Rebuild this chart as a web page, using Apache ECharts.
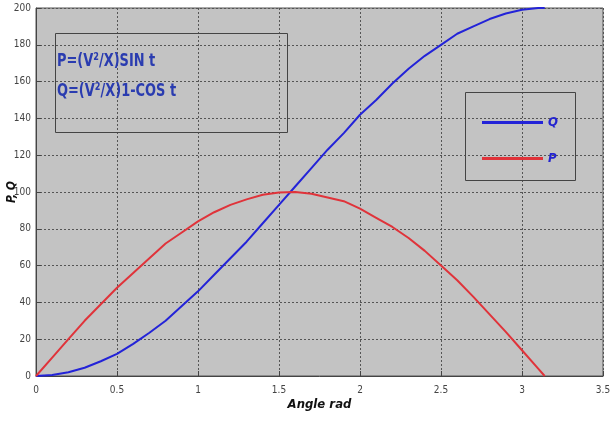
<!DOCTYPE html>
<html>
<head>
<meta charset="utf-8">
<script src="https://cdn.jsdelivr.net/npm/echarts@6/dist/echarts.min.js"></script>
<style>
  html, body { margin: 0; padding: 0; background: #fff; }
  #main { width: 611px; height: 425px; }
</style>
</head>
<body>
<div id="main"></div>
<script>
// 角度 (rad)
var angles = [0, 0.1, 0.2, 0.3, 0.4, 0.5, 0.6, 0.7, 0.8, 0.9, 1.0, 1.1, 1.2, 1.3, 1.4, 1.5, 1.6,
  1.7, 1.8, 1.9, 2.0, 2.1, 2.2, 2.3, 2.4, 2.5, 2.6, 2.7, 2.8, 2.9, 3.0, 3.1, 3.14];
// P 曲线 (红)
var pValues = [0, 10, 20, 30, 39, 48, 56, 64, 72, 78, 84, 89, 93, 96, 98.5, 99.7, 100,
  99, 97, 95, 91, 86, 81, 75, 68, 60, 52, 43, 33.5, 24, 14, 4, 0];
// Q 曲线 (蓝)
var qValues = [0, 0.5, 2, 4.5, 8, 12, 17.5, 23.5, 30, 38, 46, 55, 64, 73, 83, 93, 103,
  113, 123, 132, 142, 150, 159, 167, 174, 180, 186, 190, 194, 197, 199, 200, 200];
var xTicks = [0, 0.5, 1, 1.5, 2, 2.5, 3, 3.5];
var yTicks = [0, 20, 40, 60, 80, 100, 120, 140, 160, 180, 200];

var narrow = '"DejaVu Sans Condensed", "Liberation Sans Narrow", "Liberation Sans", sans-serif';

function pairs(xs, ys) {
  var out = [];
  for (var i = 0; i < xs.length; i++) {
    out.push([xs[i], ys[i]]);
  }
  return out;
}

var myChart = echarts.init(document.getElementById('main'));

var option = {
  backgroundColor: '#ffffff',
  animation: false,
  grid: {
    left: 36, right: 8, top: 8, bottom: 49,
    outerBoundsMode: 'none',
    containLabel: false,
    show: true,
    backgroundColor: '#c3c3c3',
    borderColor: '#555',
    borderWidth: 1
  },
  xAxis: {
    type: 'value',
    min: 0, max: 3.5, interval: 0.5,
    name: 'Angle rad',
    nameLocation: 'middle',
    nameGap: 22,
    nameMoveOverlap: false,
    nameTextStyle: { fontFamily: narrow, fontSize: 13, fontWeight: 'bold', fontStyle: 'italic', color: '#111' },
    axisLine: { show: true, lineStyle: { color: '#444', width: 1 } },
    axisTick: { show: true, inside: true, length: 5, lineStyle: { color: '#444' } },
    axisLabel: { fontFamily: narrow, fontSize: 10, color: '#444', margin: 9,
      formatter: function (v) { return xTicks.indexOf(v) >= 0 ? String(v) : ''; } },
    splitLine: { show: true, lineStyle: { color: '#555', type: [2, 2], width: 1 } }
  },
  yAxis: {
    type: 'value',
    min: 0, max: 200, interval: 20,
    name: 'P, Q',
    nameLocation: 'middle',
    nameGap: 18,
    nameMoveOverlap: false,
    nameTextStyle: { fontFamily: narrow, fontSize: 12, fontWeight: 'bold', fontStyle: 'italic', color: '#111' },
    axisLine: { show: true, lineStyle: { color: '#444', width: 1 } },
    axisTick: { show: true, inside: true, length: 5, lineStyle: { color: '#444' } },
    axisLabel: { fontFamily: narrow, fontSize: 10, color: '#444', margin: 5,
      formatter: function (v) { return yTicks.indexOf(v) >= 0 ? String(v) : ''; } },
    splitLine: { show: true, lineStyle: { color: '#555', type: [2, 2], width: 1 } }
  },
  legend: {
    orient: 'vertical',
    left: 477, top: 111,
    itemWidth: 61, itemHeight: 3,
    itemGap: 23,
    icon: 'rect',
    data: ['Q', 'P'],
    textStyle: { fontFamily: narrow, fontSize: 13, fontWeight: 'bold', fontStyle: 'italic', color: '#2323d0' }
  },
  graphic: [
    {
      type: 'rect', z: 10,
      shape: { x: 55.5, y: 33.5, width: 232, height: 99 },
      style: { fill: 'none', stroke: '#444', lineWidth: 1 }
    },
    {
      type: 'text', z: 11, x: 57, y: 52, scaleX: 0.8,
      style: { text: 'P=(V²/X)SIN t', fontFamily: narrow, fontSize: 18, fontWeight: 'bold', fill: '#2a3cb0' }
    },
    {
      type: 'text', z: 11, x: 57, y: 82, scaleX: 0.8,
      style: { text: 'Q=(V²/X)1-COS t', fontFamily: narrow, fontSize: 18, fontWeight: 'bold', fill: '#2a3cb0' }
    },
    {
      type: 'rect', z: 10,
      shape: { x: 465.5, y: 92.5, width: 110, height: 88 },
      style: { fill: 'none', stroke: '#444', lineWidth: 1 }
    }
  ],
  series: [
    {
      name: 'Q',
      type: 'line',
      showSymbol: false,
      color: '#2323d8',
      lineStyle: { width: 2, color: '#2323d8' },
      data: pairs(angles, qValues)
    },
    {
      name: 'P',
      type: 'line',
      showSymbol: false,
      color: '#e0333a',
      lineStyle: { width: 2, color: '#e0333a' },
      data: pairs(angles, pValues)
    }
  ]
};

myChart.setOption(option);
</script>
</body>
</html>
